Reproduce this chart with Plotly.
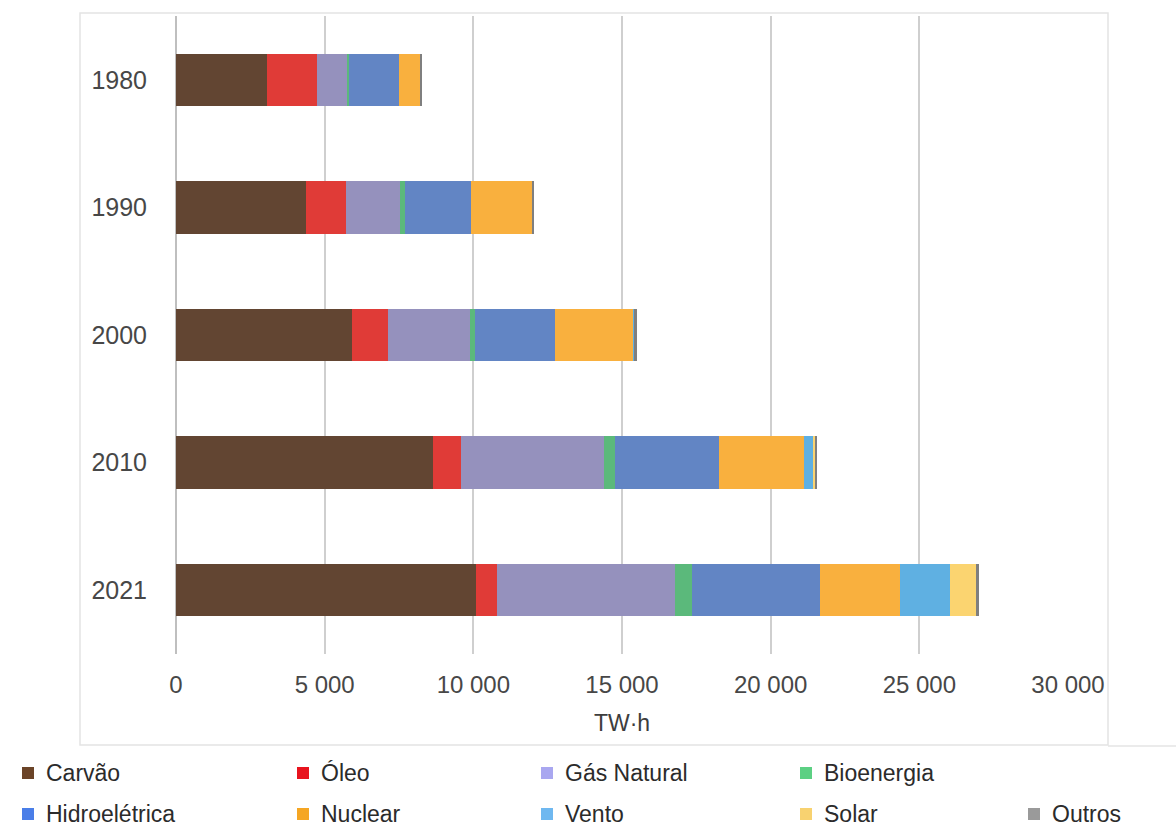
import plotly.graph_objects as go

# Electricity generation by source (TWh)
years = ["1980", "1990", "2000", "2010", "2021"]
sources = ["Carvão", "Óleo", "Gás Natural", "Bioenergia", "Hidroelétrica",
           "Nuclear", "Vento", "Solar", "Outros"]

carvao = [3050, 4360, 5910, 8650, 10095]
oleo = [1680, 1350, 1235, 920, 695]
gas_natural = [1045, 1830, 2750, 4840, 5985]
bioenergia = [30, 165, 170, 355, 570]
hidroeletrica = [1680, 2220, 2670, 3510, 4330]
nuclear = [750, 2075, 2660, 2830, 2675]
vento = [0, 5, 30, 350, 1675]
solar = [0, 0, 5, 30, 890]
outros = [15, 45, 60, 75, 105]

series = [carvao, oleo, gas_natural, bioenergia, hidroeletrica,
          nuclear, vento, solar, outros]

bar_colors = ["#624532", "#e03b37", "#9591bd", "#5bb97b", "#6285c4",
              "#f9b03e", "#5fb0e2", "#fbd470", "#7f7f7f"]
legend_colors = ["#6b4428", "#e8141e", "#a9a7f0", "#5cd083", "#4a7ee8",
                 "#f5a623", "#6fb8f0", "#f8d270", "#9a9a9a"]

fig = go.Figure()
for name, vals, col in zip(sources, series, bar_colors):
    fig.add_trace(go.Bar(
        y=years, x=vals, name=name, orientation="h",
        marker=dict(color=col, line=dict(width=0)),
        showlegend=False,
    ))

W, H = 1176, 839
L, R, T, B = 176, 108, 16, 185
PW, PH = W - L - R, H - T - B

fig.update_layout(
    width=W, height=H,
    margin=dict(l=L, r=R, t=T, b=B),
    barmode="stack", bargap=0.59,
    plot_bgcolor="white", paper_bgcolor="white",
    font=dict(family="Liberation Sans, Arial, sans-serif", size=18, color="#474747"),
)
fig.update_xaxes(
    range=[0, 30000], tickvals=[0, 5000, 10000, 15000, 20000, 25000, 30000],
    ticktext=["0", "5 000", "10 000", "15 000", "20 000", "25 000", "30 000"],
    showgrid=True, gridcolor="#cfcfcf", gridwidth=2,
    zeroline=True, zerolinecolor="#bfbfbf", zerolinewidth=2,
    showline=False, ticks="", ticklabelstandoff=14,
    tickfont=dict(size=24, color="#474747"),
    title=dict(text="TW·h", font=dict(size=23, color="#3d3d3d"), standoff=17),
    fixedrange=True,
)
fig.update_yaxes(
    categoryorder="array", categoryarray=years, autorange="reversed",
    showgrid=False, showline=False, ticks="", ticklabelstandoff=28,
    tickfont=dict(size=25, color="#474747"),
)


def px_x(x):
    return (x - L) / PW


def px_y(y):
    return (H - B - y) / PH


# chart frame
fig.add_shape(type="rect", xref="paper", yref="paper",
              x0=px_x(80), x1=px_x(1108), y0=px_y(745), y1=px_y(13),
              line=dict(color="#e4e4e4", width=1.5), layer="below")
fig.add_shape(type="line", xref="paper", yref="paper",
              x0=px_x(1108), x1=px_x(W), y0=px_y(746), y1=px_y(746),
              line=dict(color="#e4e4e4", width=1.5))

# legend drawn as swatches and labels
rows = [
    [(0, 22), (1, 297), (2, 541), (3, 800)],
    [(4, 22), (5, 297), (6, 541), (7, 800), (8, 1028)],
]
row_y = [773, 814]
for ry, row in zip(row_y, rows):
    for idx, x in row:
        fig.add_shape(type="rect", xref="paper", yref="paper",
                      x0=px_x(x), x1=px_x(x + 12), y0=px_y(ry + 6), y1=px_y(ry - 6),
                      fillcolor=legend_colors[idx], line=dict(width=0))
        fig.add_annotation(xref="paper", yref="paper", x=px_x(x + 22), y=px_y(ry),
                           text=sources[idx], showarrow=False, xanchor="left",
                           yanchor="middle",
                           font=dict(size=23, color="#2b2b2b"))

fig.write_html("out.html")
